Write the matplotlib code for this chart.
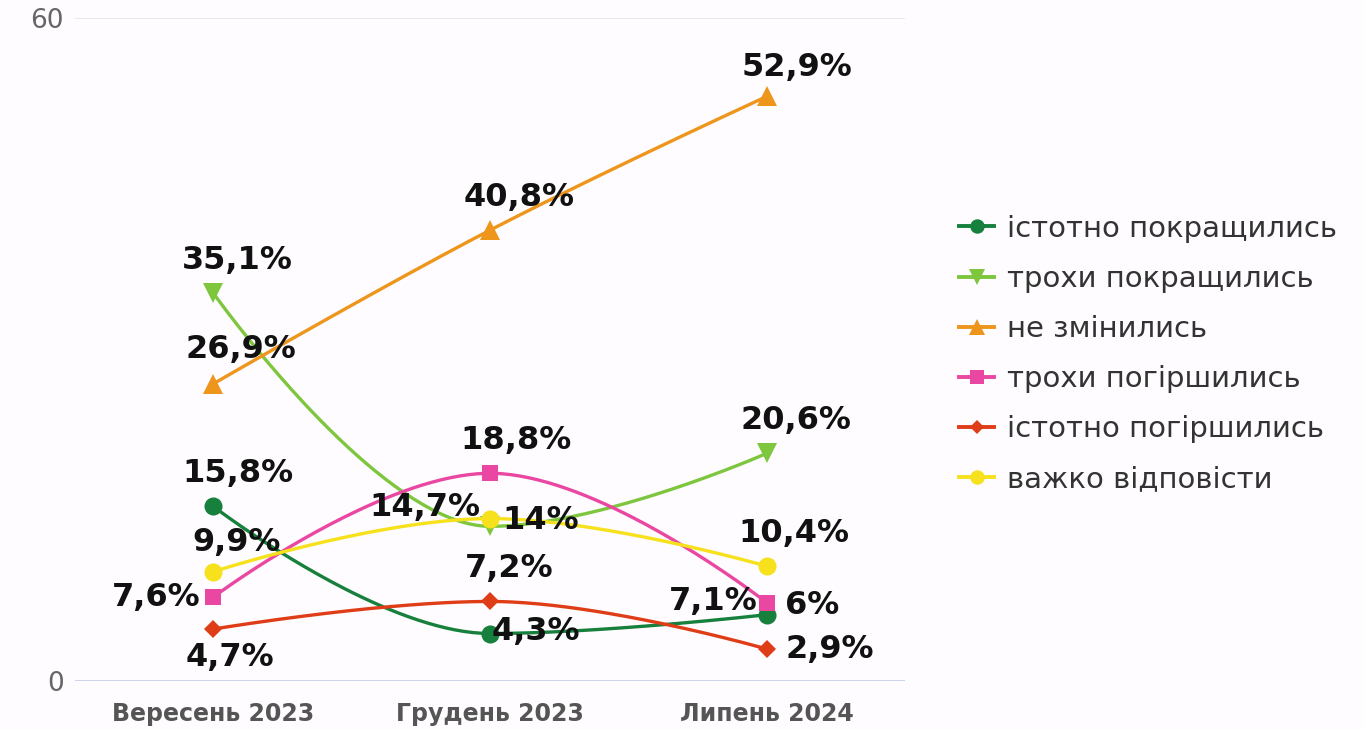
import numpy as np
import matplotlib
matplotlib.use("Agg")
import matplotlib.pyplot as plt

# data
periods = ["Вересень 2023", "Грудень 2023", "Липень 2024"]
series_names = ["істотно покращились", "трохи покращились", "не змінились",
                "трохи погіршились", "істотно погіршились", "важко відповісти"]
sig_better = [15.8, 4.3, 6]
bit_better = [35.1, 14, 20.6]
no_change = [26.9, 40.8, 52.9]
bit_worse = [7.6, 18.8, 7.1]
sig_worse = [4.7, 7.2, 2.9]
hard_to_say = [9.9, 14.7, 10.4]
all_values = [sig_better, bit_better, no_change, bit_worse, sig_worse, hard_to_say]

# styling
colors = ["#16803c", "#7dc63e", "#ee951c", "#ea47a2", "#df3d17", "#f6e11c"]
markers = ["o", "v", "^", "s", "D", "o"]
msizes = [13, 14, 14, 12, 9, 13]
# label offsets in pixels (dx, dy) from each point
offsets = [
    [(25, 33), (46, 2), (45, 9)],
    [(24, 33), (51, 6), (29, 33)],
    [(28, 34), (29, 33), (30, 29)],
    [(-57, 0), (26, 33), (-53, 1)],
    [(17, -28), (19, 33), (63, -1)],
    [(23, 29), (-65, 11), (27, 33)],
]


def spline(xs, ys, n=80):
    # Highcharts-style spline: control points with smoothing 1.5
    k = 1.5
    d = k + 1
    m = len(xs)
    left = [(xs[i], ys[i]) for i in range(m)]
    right = [(xs[i], ys[i]) for i in range(m)]
    for i in range(1, m - 1):
        x0, y0 = xs[i - 1], ys[i - 1]
        x, y = xs[i], ys[i]
        x1, y1 = xs[i + 1], ys[i + 1]
        lx, ly = (k * x + x0) / d, (k * y + y0) / d
        rx, ry = (k * x + x1) / d, (k * y + y1) / d
        corr = (ry - ly) * (rx - x) / (rx - lx) + y - ry
        ly += corr
        ry += corr
        if ly > y0 and ly > y:
            ly = max(y0, y); ry = 2 * y - ly
        elif ly < y0 and ly < y:
            ly = min(y0, y); ry = 2 * y - ly
        if ry > y1 and ry > y:
            ry = max(y1, y); ly = 2 * y - ry
        elif ry < y1 and ry < y:
            ry = min(y1, y); ly = 2 * y - ry
        left[i] = (lx, ly)
        right[i] = (rx, ry)
    t = np.linspace(0, 1, n)[:, None]
    pts = []
    for i in range(m - 1):
        p0 = np.array([xs[i], ys[i]])
        c1 = np.array(right[i])
        c2 = np.array(left[i + 1])
        p1 = np.array([xs[i + 1], ys[i + 1]])
        seg = (1 - t) ** 3 * p0 + 3 * (1 - t) ** 2 * t * c1 + 3 * (1 - t) * t ** 2 * c2 + t ** 3 * p1
        pts.append(seg)
    pts = np.vstack(pts)
    return pts[:, 0], pts[:, 1]


bg = "#fefcfe"
fig = plt.figure(figsize=(13.64, 7.30), dpi=100, facecolor=bg)
ax = fig.add_axes([0.055, 0.0671, 0.6085, 0.9082], facecolor=bg)

x = np.arange(len(periods))
for name, vals, c, mk, ms in zip(series_names, all_values, colors, markers, msizes):
    sx, sy = spline(list(x), vals)
    ax.plot(sx, sy, color=c, lw=2.4, solid_capstyle="round", clip_on=False)
    ax.plot(x, vals, linestyle="none", marker=mk, color=c, markersize=ms,
            markeredgewidth=0, clip_on=False)

# legend proxies
handles = [plt.Line2D([], [], color=c, lw=2.8, marker=mk, markersize=ms * 0.8,
                      markeredgewidth=0)
           for c, mk, ms in zip(colors, markers, msizes)]
fig.legend(handles, series_names, loc="center left", bbox_to_anchor=(0.684, 0.515),
           frameon=False, fontsize=21, handlelength=1.2, handletextpad=0.45,
           labelspacing=0.76, labelcolor="#333333")

for vals, offs in zip(all_values, offsets):
    for xi, v, (dx, dy) in zip(x, vals, offs):
        txt = f"{v:g}".replace(".", ",") + "%"
        ax.annotate(txt, (xi, v), xytext=(dx, dy), textcoords="offset pixels",
                    ha="center", va="center", fontsize=23, fontweight="bold",
                    color="#111111", zorder=10, annotation_clip=False)

ax.set_xlim(-0.5, 2.5)
ax.set_ylim(0, 60)
ax.set_yticks([0, 60])
ax.set_xticks(x)
ax.set_xticklabels(periods, fontsize=17, fontweight="bold", color="#555555")
ax.tick_params(axis="x", length=0, pad=15)
ax.tick_params(axis="y", length=0, pad=8, labelsize=19, labelcolor="#666666")
for s in ax.spines.values():
    s.set_visible(False)
ax.axhline(60, color="#e6e6e6", lw=1.2, zorder=0)
ax.axhline(0, color="#ccd6eb", lw=1.5, zorder=0)

fig.savefig("out.png", dpi=100, facecolor=bg)
